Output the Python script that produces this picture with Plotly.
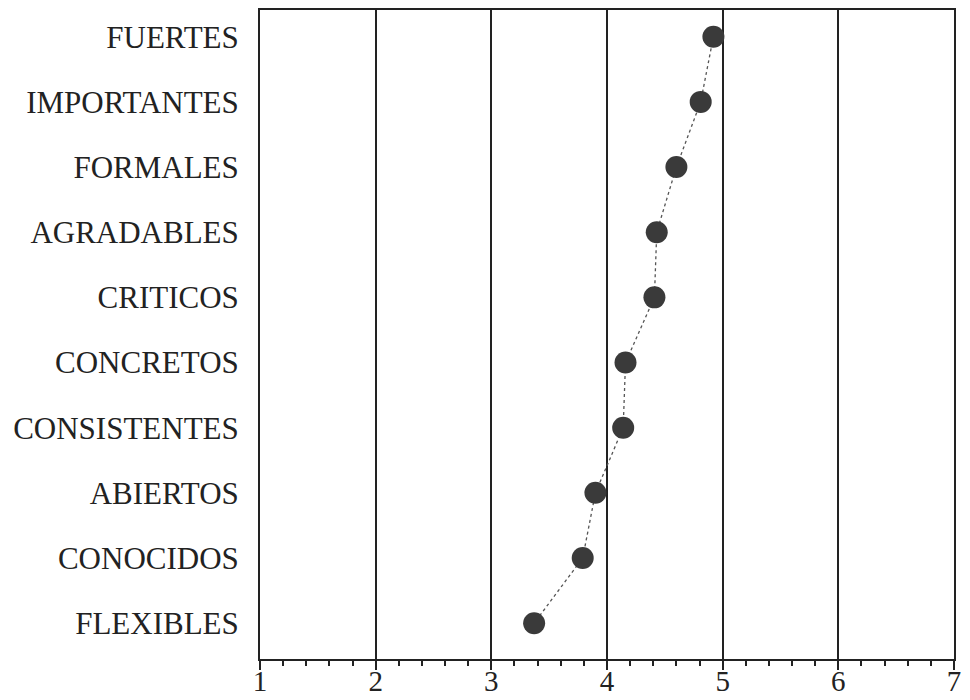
import plotly.graph_objects as go

categories = ["FUERTES", "IMPORTANTES", "FORMALES", "AGRADABLES", "CRITICOS",
              "CONCRETOS", "CONSISTENTES", "ABIERTOS", "CONOCIDOS", "FLEXIBLES"]
values = [4.92, 4.81, 4.60, 4.43, 4.41, 4.16, 4.14, 3.90, 3.79, 3.37]
x_ticks = [1, 2, 3, 4, 5, 6, 7]

fig = go.Figure()
fig.add_trace(go.Scatter(
    x=values, y=categories, mode="lines+markers",
    line=dict(color="#555555", width=1.3, dash="dot"),
    marker=dict(size=22, color="#3a3a3a", line=dict(width=0)),
    showlegend=False, cliponaxis=False,
))

fig.update_layout(
    width=962, height=692,
    margin=dict(l=252, r=16, t=2, b=41),
    paper_bgcolor="white", plot_bgcolor="white",
    font=dict(family="Liberation Serif", color="#222222"),
    xaxis=dict(
        range=[1, 7], tickvals=x_ticks, ticktext=[str(v) for v in x_ticks],
        showgrid=True, gridcolor="#222222", gridwidth=2,
        showline=True, linecolor="#222222", linewidth=2, mirror=True,
        ticks="outside", ticklen=9, tickwidth=2, tickcolor="#222222",
        minor=dict(dtick=0.2, ticks="outside", ticklen=5, tickwidth=1.5,
                   tickcolor="#222222", showgrid=False),
        tickfont=dict(size=29, family="Liberation Serif", color="#222222"),
        ticklabelstandoff=-14,
        zeroline=False, fixedrange=True, automargin=False,
    ),
    yaxis=dict(
        type="category", categoryorder="array", categoryarray=categories[::-1],
        range=[-0.55, 9.41],
        showgrid=False, showline=True, linecolor="#222222", linewidth=2, mirror=True,
        ticks="", ticklabelstandoff=13,
        tickfont=dict(size=31, family="Liberation Serif", color="#222222"),
        zeroline=False, fixedrange=True, automargin=False,
    ),
)

fig.write_html("out.html")
